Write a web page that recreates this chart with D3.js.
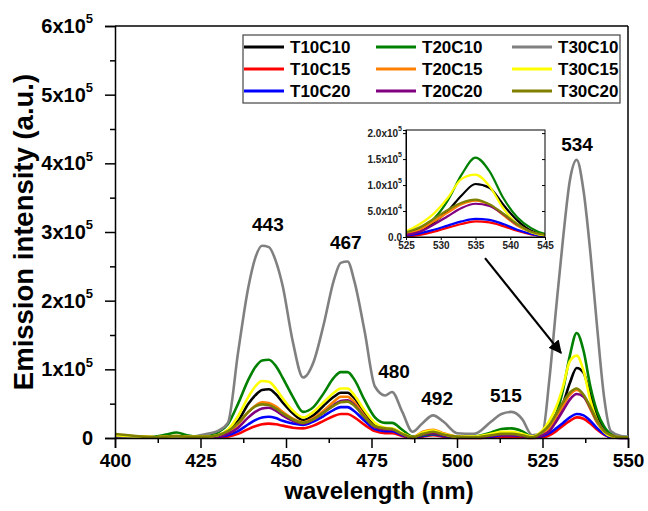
<!DOCTYPE html>
<html><head><meta charset="utf-8">
<script src="https://cdn.jsdelivr.net/npm/d3@7"></script>
<style>body{margin:0;background:#fff}svg{display:block;font-family:Arial,"Liberation Sans",sans-serif}</style>
</head><body><svg id="c" width="648" height="511"></svg>
<script>
// wavelength grid (nm)
const wavelengths = [400,404,408,412,415,418,421,424,427,430,433,436,439,441,443,445,447,449,452,455,458,461,464,466,468,470,473,476,479,481,484,487,490,493,496,500,505,510,513,516,519,522,525,527,529,531,533,535,537,539,541,543,545,548,550];
// intensities in units of 1e3 a.u.
const T10C10 = [3,2,1,1,1,2,2,1,2,3,10,25,50,62,70,71,64,52,36,26,33,47,60,66,66,58,36,18,13,13,6,1,4,7,4,1,1,3,5,6,4,1,5,12,28,50,80,102,95,62,32,12,4,1,1];
const T10C15 = [2,1,1,1,1,1,1,1,1,1,2,6,13,17,20,21,20,18,15,14,18,25,32,35,35,30,19,10,7,7,3,0,2,4,2,0,0,1,2,2,1,0,1,4,10,18,25,30,28,21,12,5,1,0,0];
const T10C20 = [2,1,1,1,1,1,1,1,1,2,4,10,20,26,30,31,29,25,21,19,24,32,41,45,45,39,25,13,10,10,4,1,3,5,3,1,1,2,4,4,3,1,3,7,14,22,30,35,33,25,14,6,1,0,0];
const T20C10 = [3,2,1,2,5,8,4,2,3,8,20,50,85,103,113,114,105,88,60,38,45,65,88,96,96,85,55,30,22,22,12,2,4,6,4,1,2,8,13,14,10,2,8,17,35,70,120,153,127,75,38,17,6,2,1];
const T20C15 = [4,3,2,1,2,3,2,2,2,3,8,20,38,47,52,51,46,38,28,23,29,40,53,60,60,52,32,16,13,13,6,1,9,12,7,2,1,4,6,6,4,1,6,14,30,47,63,70,62,42,22,9,3,1,1];
const T20C20 = [3,2,1,1,1,2,1,1,1,2,6,15,30,38,43,44,40,33,25,21,27,37,48,54,55,48,30,16,12,12,5,1,5,7,4,1,1,3,5,5,3,1,4,10,24,40,56,64,60,44,24,10,3,1,0];
const T30C10 = [3,2,1,1,1,2,2,3,6,10,22,125,220,262,280,278,258,222,140,88,110,165,230,255,257,228,155,75,62,67,38,9,22,33,24,7,6,24,35,38,28,4,8,85,190,290,375,405,360,270,160,60,10,3,2];
const T30C15 = [4,3,2,1,2,3,2,2,2,4,12,32,60,75,83,82,72,58,40,30,38,52,66,72,72,62,40,22,15,14,7,1,8,11,6,2,2,6,9,9,6,2,11,25,45,75,112,120,98,55,25,9,3,1,1];
const T30C20 = [6,4,2,1,2,3,2,2,2,4,10,22,38,46,49,48,43,36,27,22,27,37,47,52,53,47,30,17,14,13,6,1,6,9,5,2,1,4,6,6,4,1,9,19,35,52,66,72,63,45,25,10,4,1,1];

const seriesNames = ["T10C10","T10C15","T10C20","T20C10","T20C15","T20C20","T30C10","T30C15","T30C20"];
const seriesValues = [T10C10,T10C15,T10C20,T20C10,T20C15,T20C20,T30C10,T30C15,T30C20];
const seriesColors = ["#000000","#ff0000","#0000ff","#008000","#ff8000","#800080","#808080","#ffff00","#808000"];

const xTicks = [400,425,450,475,500,525,550];
const yTicks = [0,1e5,2e5,3e5,4e5,5e5,6e5];
const yTickExp = ["0","1","2","3","4","5","6"];
const peakLabels = ["443","467","480","492","515","534"];
const peakWl = [444.7,467.5,481.6,494.2,514.3,535.1];
const peakVal = [3.01e5,2.75e5,0.874e5,0.48e5,0.524e5,4.18e5];
const insetXTicks = [525,530,535,540,545];
const insetYTicks = [0,5e4,1e5,1.5e5,2e5];
const insetYLabels = [["0.0",""],["5.0x10","4"],["1.0x10","5"],["1.5x10","5"],["2.0x10","5"]];
// arrow from inset to the 534 peak group: [wavelength, intensity]
const arrowFrom = [508.2,2.62e5];
const arrowTo = [530.4,1.24e5];

const svg = d3.select("#c");
const L=115,R=628,T=26,B=438;
const x = d3.scaleLinear().domain([400,550]).range([L,R]);
const y = d3.scaleLinear().domain([0,6e5]).range([B,T]);

const data = seriesNames.map((n,i)=>({name:n,color:seriesColors[i],pts:wavelengths.map((w,j)=>[w,seriesValues[i][j]*1000])}));

// frame
svg.append("line").attr("x1",L).attr("x2",R).attr("y1",T).attr("y2",T).attr("stroke","#000").attr("stroke-width",1.5);
svg.append("line").attr("x1",R).attr("x2",R).attr("y1",T).attr("y2",B).attr("stroke","#000").attr("stroke-width",1.5);

// curves
const line = d3.line().x(d=>x(d[0])).y(d=>y(d[1])).curve(d3.curveMonotoneX);
svg.append("g").selectAll("path").data(data).join("path")
  .attr("d",d=>line(d.pts)).attr("fill","none").attr("stroke",d=>d.color).attr("stroke-width",2.6).attr("stroke-linejoin","round");

// x axis
const xa = svg.append("g").attr("transform",`translate(0,${B})`)
  .call(d3.axisBottom(x).tickValues(xTicks).tickSize(10).tickPadding(6).tickFormat(d3.format("d")));
svg.append("g").attr("transform",`translate(0,${B})`)
  .call(d3.axisBottom(x).tickValues(d3.range(412.5,550,25)).tickSize(5).tickFormat(""))
  .call(g=>g.select(".domain").remove());
// y axis
const ya = svg.append("g").attr("transform",`translate(${L},0)`)
  .call(d3.axisLeft(y).tickValues(yTicks).tickSize(10).tickPadding(10).tickFormat(""));
svg.append("g").attr("transform",`translate(${L},0)`)
  .call(d3.axisLeft(y).tickValues(d3.range(0.5e5,6e5,1e5)).tickSize(5).tickFormat(""))
  .call(g=>g.select(".domain").remove());
svg.selectAll(".domain").attr("stroke-width",1.5);
svg.selectAll(".tick line").attr("stroke-width",1.5);
xa.selectAll(".tick text").attr("font-size",19).attr("font-weight","bold").attr("fill","#000");

// y tick labels with superscripts
yTicks.forEach((v,i)=>{
  const t = svg.append("text").attr("x",L-22).attr("y",y(v)).attr("dy","0.35em")
    .attr("text-anchor","end").attr("font-size",20).attr("font-weight","bold");
  if(v===0){t.text("0");}
  else{t.append("tspan").text(yTickExp[i]+"x10");
       t.append("tspan").attr("font-size",13).attr("dy","-0.75em").text("5");}
});

// axis titles
svg.append("text").attr("x",379).attr("y",499).attr("text-anchor","middle")
  .attr("font-size",24).attr("font-weight","bold").text("wavelength (nm)");
svg.append("text").attr("transform",`translate(33,232) rotate(-90)`).attr("text-anchor","middle")
  .attr("font-size",27.5).attr("font-weight","bold").text("Emission intensity (a.u.)");

// peak labels
peakLabels.forEach((p,i)=>{
  svg.append("text").attr("x",x(peakWl[i])).attr("y",y(peakVal[i])).attr("text-anchor","middle")
    .attr("font-size",19).attr("font-weight","bold").text(p);
});

// legend
const lg = svg.append("g");
lg.append("rect").attr("x",243).attr("y",35).attr("width",377).attr("height",68).attr("fill","#fff").attr("stroke","#444").attr("stroke-width",1.2);
const colX=[244,376,512], rowY=[47,69,91];
data.forEach((d,i)=>{
  const c=Math.floor(i/3), r=i%3;
  lg.append("line").attr("x1",colX[c]).attr("x2",colX[c]+40).attr("y1",rowY[r]).attr("y2",rowY[r]).attr("stroke",d.color).attr("stroke-width",3);
  lg.append("text").attr("x",colX[c]+46).attr("y",rowY[r]).attr("dy","0.36em").attr("font-size",17).attr("font-weight","bold").text(d.name);
});

// inset
const iL=406,iR=545,iT=130,iB=237;
const xi = d3.scaleLinear().domain([525,545]).range([iL,iR]);
const yi = d3.scaleLinear().domain([0,2.06e5]).range([iB,iT]);
svg.append("clipPath").attr("id","ic").append("rect").attr("x",iL).attr("y",iT).attr("width",iR-iL).attr("height",iB-iT);
svg.append("rect").attr("x",iL).attr("y",iT).attr("width",iR-iL).attr("height",iB-iT).attr("fill","#fff");
const li = d3.line().x(d=>xi(d[0])).y(d=>yi(d[1])).curve(d3.curveMonotoneX);
svg.append("g").attr("clip-path","url(#ic)").selectAll("path").data(data.filter(d=>d.name!=="T30C10")).join("path")
  .attr("d",d=>li(d.pts.filter(p=>p[0]>=522&&p[0]<=548))).attr("fill","none").attr("stroke",d=>d.color).attr("stroke-width",2.2);
svg.append("rect").attr("x",iL).attr("y",iT).attr("width",iR-iL).attr("height",iB-iT).attr("fill","none").attr("stroke","#000").attr("stroke-width",1);
const xia = svg.append("g").attr("transform",`translate(0,${iB})`).call(d3.axisBottom(xi).tickValues(insetXTicks).tickSize(3).tickPadding(2));
const yia = svg.append("g").attr("transform",`translate(${iL},0)`).call(d3.axisLeft(yi).tickValues(insetYTicks).tickSize(3).tickFormat(""));
svg.append("g").attr("transform",`translate(${iR},0)`).call(d3.axisRight(yi).tickValues(insetYTicks).tickSize(-3).tickFormat("")).call(g=>g.select(".domain").remove());
xia.selectAll(".tick text").attr("font-size",10).attr("font-weight","bold").attr("fill","#222");
insetYTicks.forEach((v,i)=>{
  const t=svg.append("text").attr("x",iL-4).attr("y",yi(v)).attr("dy","0.35em").attr("text-anchor","end").attr("font-size",10).attr("font-weight","bold").attr("fill","#222");
  t.append("tspan").text(insetYLabels[i][0]);
  if(insetYLabels[i][1]) t.append("tspan").attr("font-size",7).attr("dy","-0.8em").text(insetYLabels[i][1]);
});

// arrow
svg.append("defs").append("marker").attr("id","ah").attr("viewBox","0 0 10 10").attr("refX",9).attr("refY",5)
  .attr("markerWidth",6).attr("markerHeight",6).attr("orient","auto-start-reverse")
  .append("path").attr("d","M0,0 L10,5 L0,10 z").attr("fill","#000");
svg.append("line").attr("x1",x(arrowFrom[0])).attr("y1",y(arrowFrom[1])).attr("x2",x(arrowTo[0])).attr("y2",y(arrowTo[1]))
  .attr("stroke","#000").attr("stroke-width",2.2).attr("marker-end","url(#ah)");
</script></body></html>
